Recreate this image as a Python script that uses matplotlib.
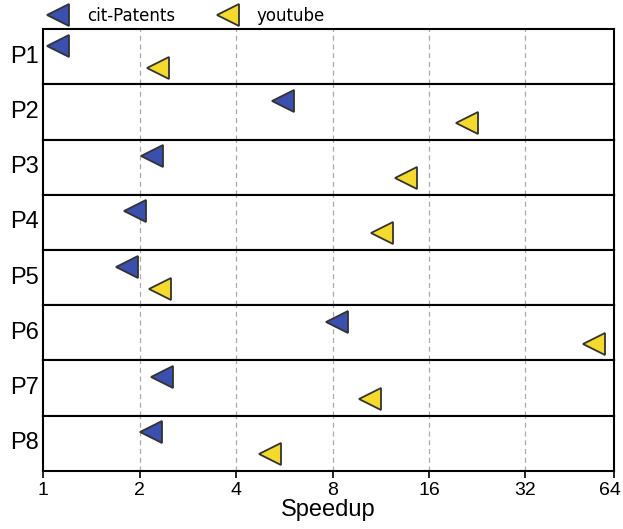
import numpy as np
import matplotlib
matplotlib.use("Agg")
import matplotlib.pyplot as plt
import matplotlib.transforms as mtransforms

# Data
programs = ["P1", "P2", "P3", "P4", "P5", "P6", "P7", "P8"]
cit_patents = [1.11, 5.62, 2.19, 1.93, 1.82, 8.28, 2.35, 2.17]
youtube = [2.28, 21.1, 13.6, 11.4, 2.32, 52.4, 10.46, 5.11]

tick_pos = [1, 2, 4, 8, 16, 32, 60.5]
tick_labels = ["1", "2", "4", "8", "16", "32", "64"]

blue = "#3a4fae"
yellow = "#f5da2e"
edge = "#333333"

fig, axes = plt.subplots(len(programs), 1, figsize=(6.23, 5.29), dpi=100, sharex=True)
fig.subplots_adjust(left=0.0695, right=0.9856, top=0.945, bottom=0.110, hspace=0)

for i, ax in enumerate(axes):
    ax.set_xscale("log", base=2)
    ax.set_xlim(1, 60.5)
    ax.set_ylim(-0.75, 1.75)
    for x in [2, 4, 8, 16, 32]:
        ax.axvline(x, color="#aaaaaa", ls=(0, (4, 3)), lw=0.9, zorder=0)
    l1, = ax.plot(cit_patents[i], 1, marker="<", ms=16, mfc=blue, mec=edge, mew=1.3,
                  ls="none", label="cit-Patents", clip_on=False)
    l2, = ax.plot(youtube[i], 0, marker="<", ms=16, mfc=yellow, mec=edge, mew=1.3,
                  ls="none", label="youtube", clip_on=False)
    for s in ax.spines.values():
        s.set_linewidth(1.5)
    ax.set_yticks([])
    ax.text(-0.008, 0.5, programs[i], transform=ax.transAxes, ha="right", va="center",
            fontsize=17, family="Liberation Sans")
    ax.minorticks_off()
    if i < len(programs) - 1:
        ax.tick_params(axis="x", which="both", length=0, labelbottom=False)

ax = axes[-1]
ax.set_xticks(tick_pos)
ax.set_xticklabels(tick_labels, family="Liberation Sans", fontsize=14)
ax.tick_params(axis="x", length=5, width=1.2, pad=3)
ax.set_xlabel("Speedup", family="Liberation Sans", fontsize=17, labelpad=0)

# keep the last label inside the figure
last = ax.get_xticklabels()[-1]
last.set_horizontalalignment("right")
last.set_transform(last.get_transform() +
                   mtransforms.ScaledTranslation(7 / 100, 0, fig.dpi_scale_trans))

fig.legend(handles=[l1, l2], loc="center left", bbox_to_anchor=(0.062, 0.97), ncol=2,
           frameon=False, fontsize=12, handletextpad=1.0, columnspacing=2.4,
           borderaxespad=0, handlelength=1.5)

fig.savefig("out.png", dpi=100)
